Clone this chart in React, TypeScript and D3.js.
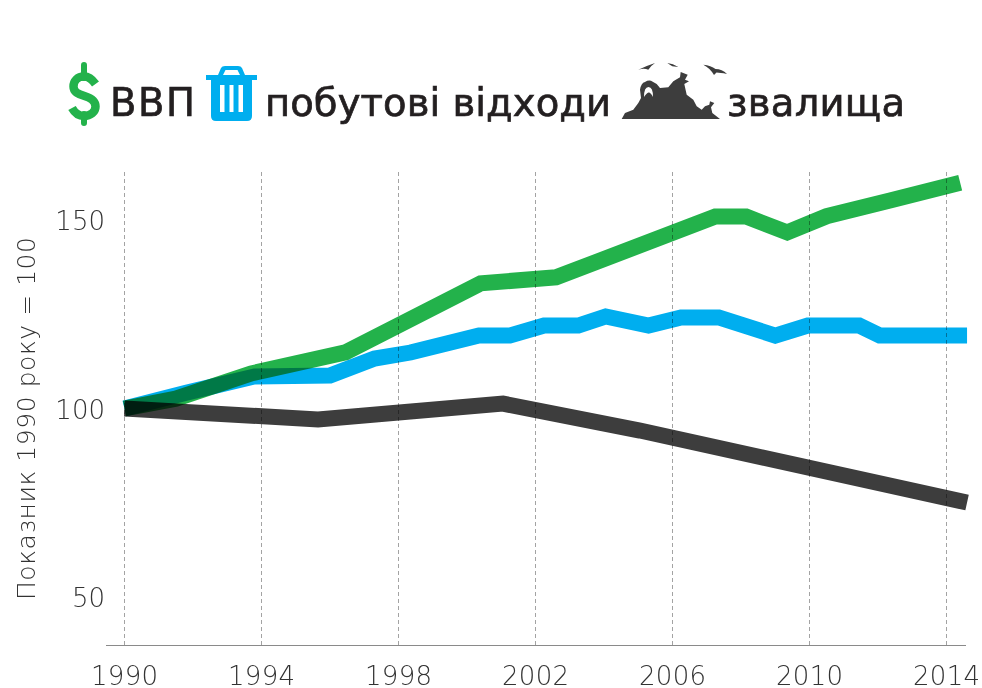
import * as d3 from "d3";

const yearTicks = [1990, 1994, 1998, 2002, 2006, 2010, 2014];
const valueTicks = [50, 100, 150];

const gdpYears = [1990, 1991.5, 1993.7, 1996.45, 2000.4, 2002.6, 2007.25, 2008.15, 2009.35, 2010.5, 2012.35, 2014.4];
const gdpValues = [100, 102.6, 109.3, 114.9, 133.2, 134.8, 150.9, 150.9, 146.7, 151, 155.2, 159.9];

const wasteYears = [1990, 1991.8, 1993.8, 1996, 1997.3, 1998.35, 2000.35, 2001.25, 2002.25, 2003.25, 2004.05, 2005.3, 2006.25, 2007.35, 2009, 2009.95, 2011.45, 2012.05, 2014.6];
const wasteValues = [100, 104.2, 108.5, 108.75, 113.25, 114.85, 119.35, 119.35, 122, 122, 124.4, 122, 124.15, 124.15, 119.35, 122, 122, 119.35, 119.35];

const landfillYears = [1990, 1995.65, 2001.05, 2005.05, 2014.6];
const landfillValues = [100, 97.1, 101.3, 94.15, 75.05];

const GREEN = "#23b24b";
const BLUE = "#00aeef";
const DARK = "#3d3d3d";
const INK = "#231f20";
const GREY_TEXT = "#333333";
const FONT = "'DejaVu Sans', Inter, sans-serif";

const x = d3.scaleLinear().domain([1990, 2014]).range([124.5, 946.5]);
const y = d3.scaleLinear().domain([50, 150]).range([597, 220]);

const makeLine = (years: number[], values: number[]) =>
  d3
    .line<number>()
    .x((d) => x(d))
    .y((_, i) => y(values[i]))(years) as string;

const series = [
  { key: "landfill", color: DARK, path: makeLine(landfillYears, landfillValues) },
  { key: "waste", color: BLUE, path: makeLine(wasteYears, wasteValues) },
  { key: "gdp", color: GREEN, path: makeLine(gdpYears, gdpValues) },
];

const titleProps = { y: 115.5, fontSize: 38.5, fill: INK, stroke: INK, strokeWidth: 0.7 };
const tickProps = { fontSize: 26, fontWeight: 200, fill: GREY_TEXT };

const App = () => {
  return (
    <svg
      width={982}
      height={688}
      style={{ position: "absolute", left: 0, top: 0, isolation: "isolate", background: "#fff" }}
      fontFamily={FONT}
    >
      {/* легенда */}
      <path
        d="M95.500 84 C92 79 89 76.500 84 76.500 C77.500 76.500 73.500 81 73.500 86.500 C73.500 92 78 94 84.500 96 C91 98 95.500 101 95.500 106.500 C95.500 112 90.500 116 84 116 C78.500 116 74.500 112.500 72 108"
        fill="none"
        stroke={GREEN}
        strokeWidth={8.5}
      />
      <path d="M84 65 V78 M84 114 V123" stroke={GREEN} strokeWidth={6} strokeLinecap="round" />
      <text x={110} textLength={85} {...titleProps}>ВВП</text>

      <path
        fillRule="evenodd"
        fill={BLUE}
        d="M206 75 H218 L221 68 Q222 66 225 66 H238 Q241 66 242 68 L245 75 H257 V80 H252 V116 Q252 121 247 121 H216 Q211 121 211 116 V80 H206 Z M223 75 H240 L237.500 70 H225.500 Z M220 85 V112 H224.500 V85 Z M229.500 85 V112 H233.500 V85 Z M238.500 85 V112 H243 V85 Z"
      />
      <text x={265} textLength={346} {...titleProps}>побутові відходи</text>

      <path
        fill={DARK}
        d="M621.700 119 L625 113 L633.300 109.700 L638.300 103 L641 98 L640 89.700 Q641 83 645 82 Q648 80 651 80.700 L656.700 84 L660 88 L668.300 87.300 L673.300 81.300 L680 77.300 L680.700 72 L687.700 74.700 L685 79.700 L689 81.300 L684.300 84 L686.700 94.700 L693.300 99.700 L696.700 106.300 L701.700 109.700 L705 106.300 L709.300 104.700 L710 101.300 L714.300 103 L711 107.300 L712.300 113 L720 119 Z"
      />
      <path d="M644 97 Q644 87 648.500 87 Q653 87 653 97 Q650.500 92 648.500 92.500 Q646.500 93 644 97 Z" fill="#fff" />
      <path
        fill={DARK}
        d="M638.300 69.700 Q646 66 655 63 Q650.500 66 648.300 69.700 Q644 68 638.300 69.700 Z M667.300 63 Q673 63.500 678.300 67 L672.300 66.300 Q670 65 667.300 63 Z M703.300 64.700 Q711 65.500 715.500 69 Q722 69 727 74 Q720 72.500 716.500 72.500 L714 75 Q710 68 703.300 64.700 Z"
      />
      <text x={727} textLength={178} {...titleProps}>звалища</text>

      {/* сітка */}
      {yearTicks.map((t) => (
        <line
          key={t}
          x1={x(t)}
          x2={x(t)}
          y1={172}
          y2={645}
          stroke="#a3a3a3"
          strokeWidth={1}
          strokeDasharray="4 3"
        />
      ))}
      <line x1={106} x2={966} y1={645.5} y2={645.5} stroke="#8a8a8a" strokeWidth={1.2} />

      {/* лінії */}
      {series.map((s) => (
        <path
          key={s.key}
          d={s.path}
          fill="none"
          stroke={s.color}
          strokeWidth={16}
          strokeLinejoin="miter"
          style={{ mixBlendMode: "multiply" }}
        />
      ))}

      {/* підписи осей */}
      {yearTicks.map((t) => (
        <text key={t} x={x(t)} y={685} textAnchor="middle" textLength={67} {...tickProps}>
          {t}
        </text>
      ))}
      {valueTicks.map((t) => (
        <text key={t} x={105} y={y(t) + 10} textAnchor="end" {...tickProps}>
          {t}
        </text>
      ))}
      <text
        transform="translate(35,418.500) rotate(-90)"
        textAnchor="middle"
        textLength={363}
        {...tickProps}
        fontSize={25}
      >
        Показник 1990 року = 100
      </text>
    </svg>
  );
};

export default App;
